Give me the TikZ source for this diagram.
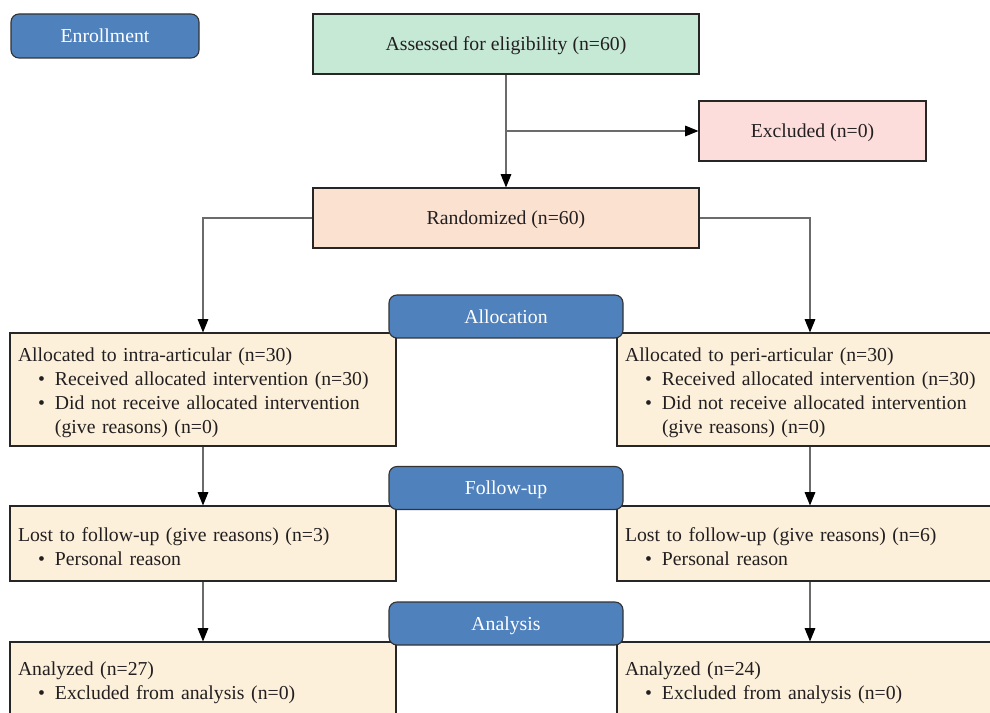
\documentclass[tikz,border=0pt]{standalone}
\usepackage{fontspec}
\setmainfont{Liberation Serif}
\usetikzlibrary{arrows.meta, positioning}
\definecolor{cbadge}{HTML}{4F81BD}
\definecolor{cgreen}{HTML}{C6E9D6}
\definecolor{cpink}{HTML}{FCDDDC}
\definecolor{cpeach}{HTML}{FBE1D0}
\definecolor{ccream}{HTML}{FCF0DA}
\definecolor{cline}{HTML}{6B6B6B}
\definecolor{ctext}{HTML}{231F20}
\newcommand{\bul}{\hspace*{15pt}\makebox[12.75pt][l]{\textbullet}}
\newcommand{\hang}{\hspace*{27.75pt}}
\tikzset{
  every picture/.style={font=\fontsize{14.8}{18}\selectfont, line width=0.85pt, x=0.75pt, y=-0.75pt},
  box/.style={draw=black!85, fill=#1, text=ctext, align=center, text depth=0pt, minimum width=289.5pt, minimum height=45pt},
  box/.default=ccream,
  listbox/.style={draw=black!85, fill=ccream, text=ctext, align=left, text width=277.5pt, inner xsep=6pt, minimum height=#1,
    execute at end node={\par\kern-5pt}},
  badge/.style={draw=black!80, fill=cbadge, text=white, rounded corners=6pt, text depth=0pt, minimum width=175.5pt, minimum height=32.25pt},
  arrow/.style={-{Triangle[length=10pt, width=8pt, color=black]}, draw=cline},
}
\begin{document}
\begin{tikzpicture}
  \path[use as bounding box, clip] (0,0) rectangle (990,713);
  % enrollment
  \node[box=cgreen] (assess) at (506,44) {Assessed for eligibility (n=60)};
  \node[box=cpink, minimum width=170.25pt] (excl) at (812.5,131) {Excluded (n=0)};
  \node[box=cpeach] (rand) at (506,218) {Randomized (n=60)};

  % the two arms
  \node[listbox=84.75pt] (alloc1) at (203,389.5) {Allocated to intra-articular (n=30)\\
    \bul Received allocated intervention (n=30)\\
    \bul Did not receive allocated intervention\\
    \hang (give reasons) (n=0)};
  \node[listbox=84.75pt] (alloc2) at (810,389.5) {Allocated to peri-articular (n=30)\\
    \bul Received allocated intervention (n=30)\\
    \bul Did not receive allocated intervention\\
    \hang (give reasons) (n=0)};
  \node[listbox=56.25pt] (fu1) at (203,543.5) {Lost to follow-up (give reasons) (n=3)\\
    \bul Personal reason};
  \node[listbox=56.25pt] (fu2) at (810,543.5) {Lost to follow-up (give reasons) (n=6)\\
    \bul Personal reason};
  \node[listbox=56.25pt] (an1) at (203,679.5) {Analyzed (n=27)\\
    \bul Excluded from analysis (n=0)};
  \node[listbox=56.25pt] (an2) at (810,679.5) {Analyzed (n=24)\\
    \bul Excluded from analysis (n=0)};

  \draw[arrow] (assess) -- (rand);
  \draw[arrow] (assess.south |- excl.west) -- (excl.west);
  \draw[arrow] (rand.west) -| (alloc1.north);
  \draw[arrow] (rand.east) -| (alloc2.north);
  \draw[arrow] (alloc1) -- (fu1);
  \draw[arrow] (alloc2) -- (fu2);
  \draw[arrow] (fu1) -- (an1);
  \draw[arrow] (fu2) -- (an2);

  % stage labels
  \node[badge, minimum width=141pt, minimum height=33pt] (enrol) at (105,36) {Enrollment};
  \node[badge] (allocation) at (506,316.5) {Allocation};
  \node[badge] (followup) at (506,488) {Follow-up};
  \node[badge] (analysis) at (506,623.5) {Analysis};
\end{tikzpicture}
\end{document}
